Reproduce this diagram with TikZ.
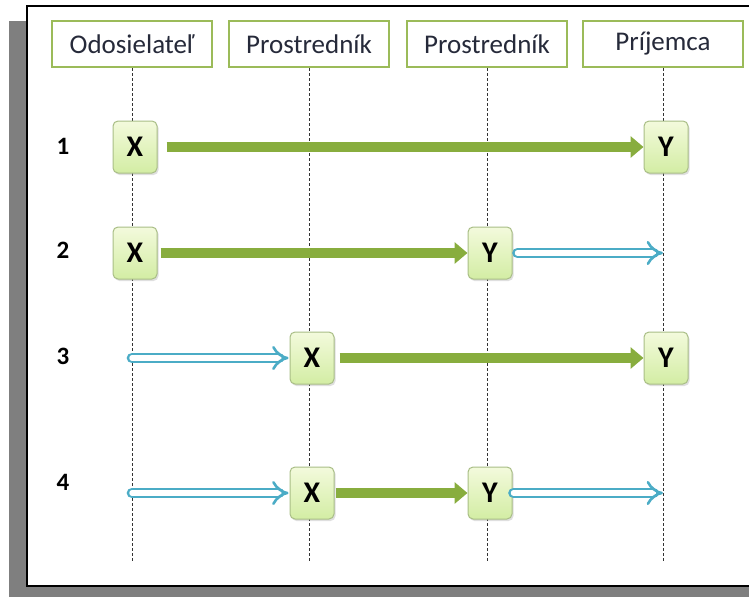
\documentclass[tikz,border=0pt]{standalone}
\usepackage{fontspec}
\setmainfont{Carlito}
\usetikzlibrary{arrows.meta,shadows,backgrounds}
\definecolor{framegray}{HTML}{7F7F7F}
\definecolor{headgreen}{HTML}{9BBB59}
\definecolor{headtext}{HTML}{262A3A}
\definecolor{boxedge}{HTML}{A9BE86}
\definecolor{boxtop}{HTML}{F3FADC}
\definecolor{boxbottom}{HTML}{D3EDA4}
\definecolor{flowgreen}{HTML}{88AD3E}
\definecolor{flowblue}{HTML}{4BACC6}
\tikzset{
  head/.style={draw=headgreen, line width=2.5pt, fill=white, minimum width=160pt,
    minimum height=46pt, inner sep=0pt, text=headtext,
    font=\fontsize{27}{30}\selectfont},
  lifeline/.style={draw=black!80, line width=1pt, dash pattern=on 3pt off 2pt},
  packet/.style={draw=boxedge, line width=1pt, rounded corners=5pt,
    top color=boxtop, bottom color=boxbottom, minimum width=44pt, minimum height=52pt,
    inner sep=0pt, font=\bfseries\fontsize{30}{30}\selectfont, xshift=3pt,
    drop shadow={shadow xshift=1.5pt, shadow yshift=-2pt, opacity=0.25}},
  rownum/.style={font=\bfseries\fontsize{25}{26}\selectfont, text=black},
  secure/.style={draw=flowgreen, line width=10pt, -{Triangle[length=13pt,width=21pt]}},
  plain/.style={draw=flowblue, double=white, double distance=5.5pt, line width=2.6pt,
    line cap=round, -{Implies[length=10pt,width=22pt]}}
}
\begin{document}
\begin{tikzpicture}[x=1pt,y=-1pt]
\useasboundingbox (0,0) rectangle (749,597);

% participants
\node[head] (h1) at (132,44) {Odosielateľ};
\node[head] (h2) at (309,44) {Prostredník};
\node[head] (h3) at (487,44) {Prostredník};
\node[head] (h4) at (663,44) {Príjemca};

% lower ends of the lifelines
\coordinate (b1) at (132,563);
\coordinate (b2) at (309,563);
\coordinate (b3) at (487,563);
\coordinate (b4) at (663,563);

\begin{scope}[on background layer]
  \fill[framegray] (9,21) rectangle (749,597);
  \filldraw[fill=white, draw=black, line width=1.2pt] (27,6) rectangle (753,586);
  \foreach \i in {1,...,4} \draw[lifeline] (h\i.south) -- (b\i);
\end{scope}

% row labels
\node[rownum] (n1) at (63,146) {1};
\node[rownum] (n2) at (63,250) {2};
\node[rownum] (n3) at (63,356) {3};
\node[rownum] (n4) at (63,482) {4};

% scenario 1
\node[packet] (x1) at (h1 |- 0,147) {X};
\node[packet] (y1) at (h4 |- 0,147) {Y};
\draw[secure] ([xshift=9pt]x1.east) -- (y1.west);

% scenario 2
\node[packet] (x2) at (h1 |- 0,253) {X};
\node[packet] (y2) at (h3 |- 0,253) {Y};
\coordinate (e2) at (h4 |- 0,253);
\draw[secure] ([xshift=3pt]x2.east) -- (y2.west);
\draw[plain] ([xshift=5pt]y2.east) -- (e2);

% scenario 3
\coordinate (s3) at (h1 |- 0,358);
\node[packet] (x3) at (h2 |- 0,358) {X};
\node[packet] (y3) at (h4 |- 0,358) {Y};
\draw[plain] (s3) -- ([xshift=-1pt]x3.west);
\draw[secure] ([xshift=5pt]x3.east) -- (y3.west);

% scenario 4
\coordinate (s4) at (h1 |- 0,493);
\node[packet] (x4) at (h2 |- 0,493) {X};
\node[packet] (y4) at (h3 |- 0,493) {Y};
\coordinate (e4) at (h4 |- 0,493);
\draw[plain] (s4) -- ([xshift=-1pt]x4.west);
\draw[secure] ([xshift=1pt]x4.east) -- (y4.west);
\draw[plain] ([xshift=1pt]y4.east) -- (e4);
\end{tikzpicture}
\end{document}
